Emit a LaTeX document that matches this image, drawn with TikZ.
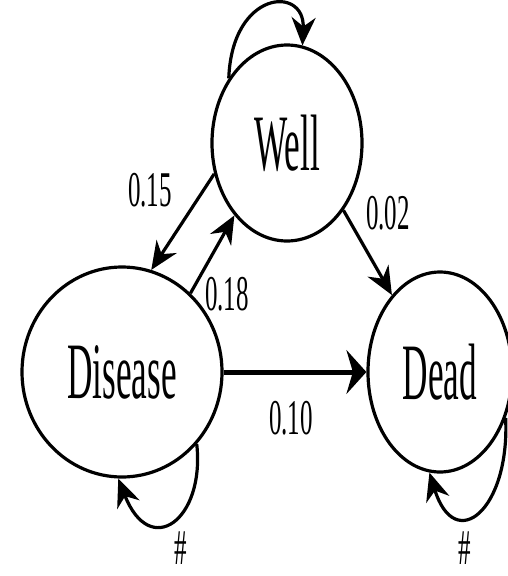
\documentclass[tikz,border=0pt]{standalone}
\usepackage{fontspec}
\setmainfont{Liberation Serif}
\usepackage{graphicx}
\usetikzlibrary{
    shapes.geometric,
    arrows.meta
}

\newcommand{\statetext}[1]{\scalebox{0.44}[1]{\fontsize{80}{80}\selectfont #1}}
\newcommand{\probtext}[1]{\scalebox{0.5}[1]{\fontsize{50}{50}\selectfont #1}}

\begin{document}
\begin{tikzpicture}[
            x=1pt, y=-1pt,
            state/.style={ellipse, draw, line width=3.2pt, inner sep=0pt},
            arr/.style={-{Stealth[length=28pt, width=24pt]}, line width=3.2pt},
            harr/.style={-{Stealth[length=20pt, width=44pt]}, line width=5pt},
            prob/.style={inner sep=0pt},
        ]
            \useasboundingbox (0,0) rectangle (508,576);

            % ====== Three states ======
            \node[state, minimum width=150pt, minimum height=196pt] (well) at (287,143) {\statetext{Well}};

            \node[state, minimum width=200pt, minimum height=210pt] (disease) at (122,372) {\statetext{Disease}};

            \node[state, minimum width=144pt, minimum height=200pt] (dead) at (440,372) {\statetext{Dead}};

            % ====== Transitions ======
            \draw[arr] (well.203) -- (disease.74);
            \draw[arr] (disease.49) -- (well.234);
            \draw[arr] (well.310) -- (dead.122);
            \draw[harr] (disease.east) -- (dead.west);

            % ====== Self loops ======
            \draw[arr] (well.132) .. controls (232,-10) and (305,-15) .. (well.81);
            \draw[arr] (disease.316) .. controls (205,520) and (150,560) .. (disease.268);
            \draw[arr] (dead.325) .. controls (510,510) and (455,555) .. (dead.264);

            % ====== Labels ======
            \node[prob] (p15) at (150,190) {\probtext{0.15}};
            \node[prob] (p18) at (227,294) {\probtext{0.18}};
            \node[prob] (p02) at (388,213) {\probtext{0.02}};
            \node[prob] (p10) at (291,418) {\probtext{0.10}};
            \node[prob] (hdis) at (181,548) {\probtext{\#}};
            \node[prob] (hdead) at (465,548) {\probtext{\#}};
        \end{tikzpicture}
\end{document}
